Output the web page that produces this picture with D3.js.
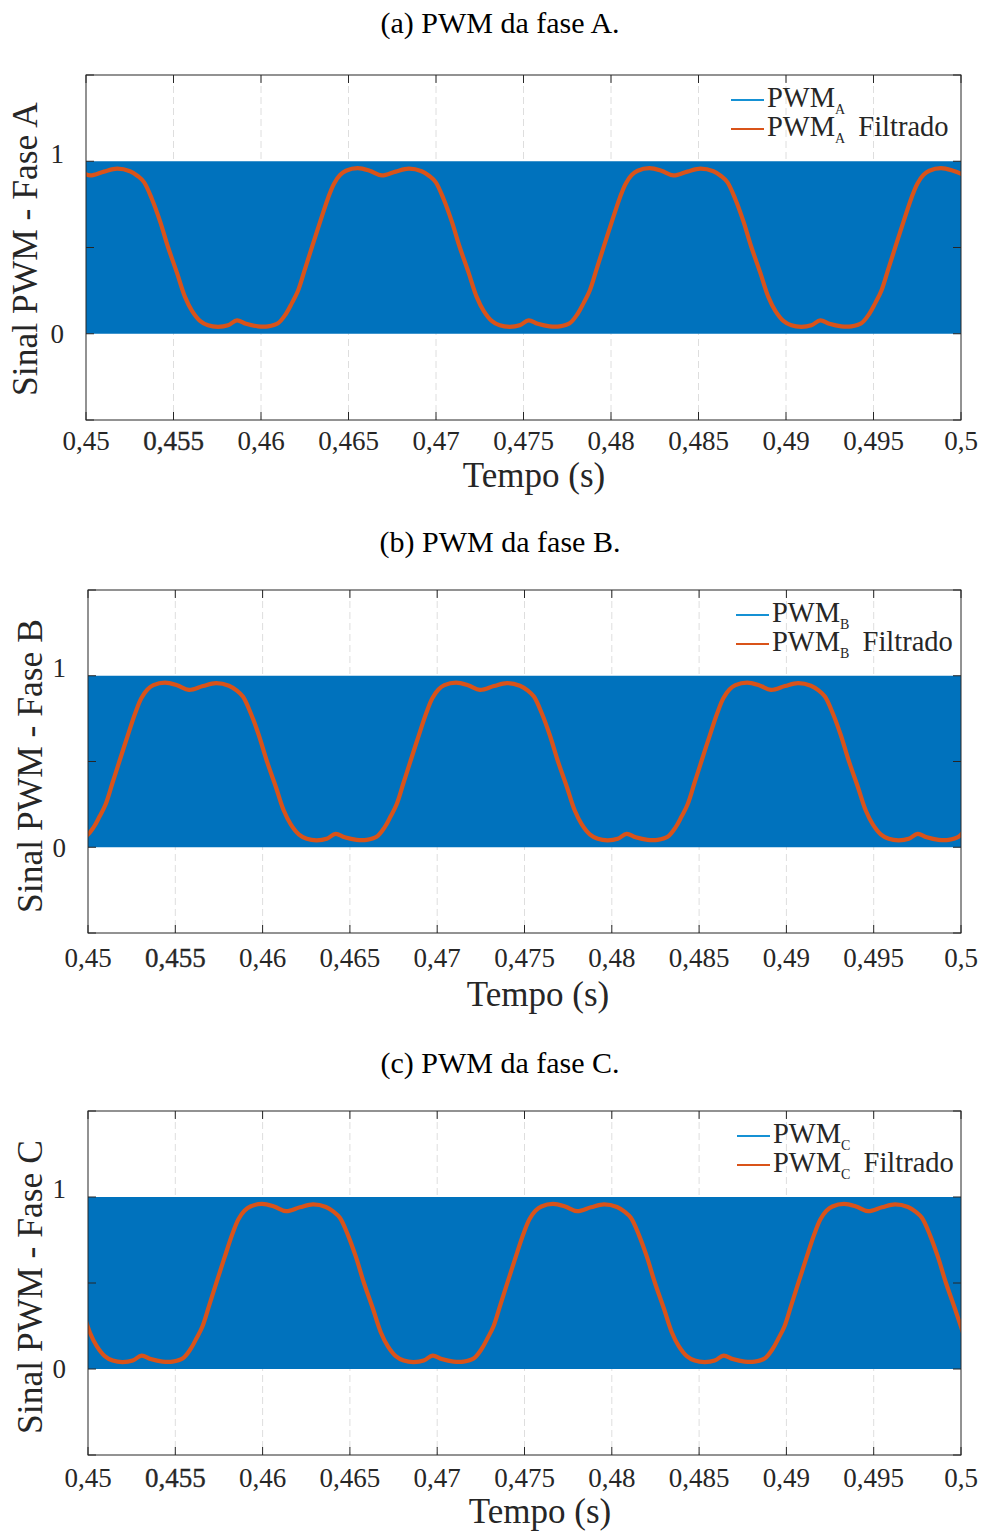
<!DOCTYPE html>
<html><head><meta charset="utf-8">
<script src="https://cdn.jsdelivr.net/npm/d3@7"></script>
<style>body{margin:0;background:#fff} svg{display:block}</style>
</head><body>
<svg id="c" width="994" height="1531"></svg>
<script>
const xTicks = [0.45,0.455,0.46,0.465,0.47,0.475,0.48,0.485,0.49,0.495,0.5];
const xTickLabels = ["0,45","0,455","0,46","0,465","0,47","0,475","0,48","0,485","0,49","0,495","0,5"];
const yTicks = [-0.5,0,0.5,1,1.5];
const yTickLabels = ["","0","","1",""];
const xDomain = [0.45,0.5];
const yDomain = [-0.5,1.5];
const pwmLevels = [0,1];
const titles = ["(a) PWM da fase A.","(b) PWM da fase B.","(c) PWM da fase C."];
const phaseNames = ["A","B","C"];
const xLabel = "Tempo (s)";

const filtA = [
[0.448190,0.945],[0.448857,0.960],[0.449543,0.945],[0.450229,0.918],[0.451029,0.940],[0.451772,0.957],[0.452515,0.942],[0.452972,0.913],[0.453315,0.879],[0.453772,0.780],[0.454229,0.653],[0.454686,0.503],[0.455200,0.353],[0.455657,0.214],[0.456057,0.133],[0.456515,0.075],[0.456972,0.049],[0.457543,0.040],[0.458115,0.049],[0.458629,0.078],[0.459143,0.058],[0.459829,0.043],[0.460400,0.043],[0.460972,0.061],[0.461429,0.116],[0.461772,0.179],[0.462115,0.249],[0.462515,0.376],[0.462915,0.503],[0.463372,0.647],[0.463829,0.786],[0.464172,0.870],[0.464515,0.920],[0.464857,0.945],
[0.465524,0.960],[0.466210,0.945],[0.466896,0.918],[0.467696,0.940],[0.468439,0.957],[0.469182,0.942],[0.469639,0.913],[0.469982,0.879],[0.470439,0.780],[0.470896,0.653],[0.471353,0.503],[0.471867,0.353],[0.472324,0.214],[0.472724,0.133],[0.473182,0.075],[0.473639,0.049],[0.474210,0.040],[0.474782,0.049],[0.475296,0.078],[0.475810,0.058],[0.476496,0.043],[0.477067,0.043],[0.477639,0.061],[0.478096,0.116],[0.478439,0.179],[0.478782,0.249],[0.479182,0.376],[0.479582,0.503],[0.480039,0.647],[0.480496,0.786],[0.480839,0.870],[0.481182,0.920],[0.481524,0.945],
[0.482191,0.960],[0.482877,0.945],[0.483563,0.918],[0.484363,0.940],[0.485106,0.957],[0.485849,0.942],[0.486306,0.913],[0.486649,0.879],[0.487106,0.780],[0.487563,0.653],[0.488020,0.503],[0.488534,0.353],[0.488991,0.214],[0.489391,0.133],[0.489849,0.075],[0.490306,0.049],[0.490877,0.040],[0.491449,0.049],[0.491963,0.078],[0.492477,0.058],[0.493163,0.043],[0.493734,0.043],[0.494306,0.061],[0.494763,0.116],[0.495106,0.179],[0.495449,0.249],[0.495849,0.376],[0.496249,0.503],[0.496706,0.647],[0.497163,0.786],[0.497506,0.870],[0.497849,0.920],[0.498191,0.945],
[0.498858,0.960],[0.499544,0.945],[0.500230,0.918]];

const filtB = [
[0.448718,0.043],[0.449289,0.043],[0.449861,0.061],[0.450318,0.116],[0.450661,0.179],[0.451004,0.249],[0.451404,0.376],[0.451804,0.503],[0.452261,0.647],[0.452718,0.786],[0.453061,0.870],[0.453404,0.920],[0.453746,0.945],
[0.454413,0.960],[0.455099,0.945],[0.455785,0.918],[0.456585,0.940],[0.457328,0.957],[0.458071,0.942],[0.458528,0.913],[0.458871,0.879],[0.459328,0.780],[0.459785,0.653],[0.460242,0.503],[0.460756,0.353],[0.461213,0.214],[0.461613,0.133],[0.462071,0.075],[0.462528,0.049],[0.463099,0.040],[0.463671,0.049],[0.464185,0.078],[0.464699,0.058],[0.465385,0.043],[0.465956,0.043],[0.466528,0.061],[0.466985,0.116],[0.467328,0.179],[0.467671,0.249],[0.468071,0.376],[0.468471,0.503],[0.468928,0.647],[0.469385,0.786],[0.469728,0.870],[0.470071,0.920],[0.470413,0.945],
[0.471080,0.960],[0.471766,0.945],[0.472452,0.918],[0.473252,0.940],[0.473995,0.957],[0.474738,0.942],[0.475195,0.913],[0.475538,0.879],[0.475995,0.780],[0.476452,0.653],[0.476909,0.503],[0.477423,0.353],[0.477880,0.214],[0.478280,0.133],[0.478738,0.075],[0.479195,0.049],[0.479766,0.040],[0.480338,0.049],[0.480852,0.078],[0.481366,0.058],[0.482052,0.043],[0.482623,0.043],[0.483195,0.061],[0.483652,0.116],[0.483995,0.179],[0.484338,0.249],[0.484738,0.376],[0.485138,0.503],[0.485595,0.647],[0.486052,0.786],[0.486395,0.870],[0.486738,0.920],[0.487080,0.945],
[0.487747,0.960],[0.488433,0.945],[0.489119,0.918],[0.489919,0.940],[0.490662,0.957],[0.491405,0.942],[0.491862,0.913],[0.492205,0.879],[0.492662,0.780],[0.493119,0.653],[0.493576,0.503],[0.494090,0.353],[0.494547,0.214],[0.494947,0.133],[0.495405,0.075],[0.495862,0.049],[0.496433,0.040],[0.497005,0.049],[0.497519,0.078],[0.498033,0.058],[0.498719,0.043],[0.499290,0.043],[0.499862,0.061],[0.500319,0.116]];

const filtC = [
[0.448216,0.780],[0.448673,0.653],[0.449130,0.503],[0.449644,0.353],[0.450101,0.214],[0.450501,0.133],[0.450959,0.075],[0.451416,0.049],[0.451987,0.040],[0.452559,0.049],[0.453073,0.078],[0.453587,0.058],[0.454273,0.043],[0.454844,0.043],[0.455416,0.061],[0.455873,0.116],[0.456216,0.179],[0.456559,0.249],[0.456959,0.376],[0.457359,0.503],[0.457816,0.647],[0.458273,0.786],[0.458616,0.870],[0.458959,0.920],[0.459301,0.945],
[0.459968,0.960],[0.460654,0.945],[0.461340,0.918],[0.462140,0.940],[0.462883,0.957],[0.463626,0.942],[0.464083,0.913],[0.464426,0.879],[0.464883,0.780],[0.465340,0.653],[0.465797,0.503],[0.466311,0.353],[0.466768,0.214],[0.467168,0.133],[0.467626,0.075],[0.468083,0.049],[0.468654,0.040],[0.469226,0.049],[0.469740,0.078],[0.470254,0.058],[0.470940,0.043],[0.471511,0.043],[0.472083,0.061],[0.472540,0.116],[0.472883,0.179],[0.473226,0.249],[0.473626,0.376],[0.474026,0.503],[0.474483,0.647],[0.474940,0.786],[0.475283,0.870],[0.475626,0.920],[0.475968,0.945],
[0.476635,0.960],[0.477321,0.945],[0.478007,0.918],[0.478807,0.940],[0.479550,0.957],[0.480293,0.942],[0.480750,0.913],[0.481093,0.879],[0.481550,0.780],[0.482007,0.653],[0.482464,0.503],[0.482978,0.353],[0.483435,0.214],[0.483835,0.133],[0.484293,0.075],[0.484750,0.049],[0.485321,0.040],[0.485893,0.049],[0.486407,0.078],[0.486921,0.058],[0.487607,0.043],[0.488178,0.043],[0.488750,0.061],[0.489207,0.116],[0.489550,0.179],[0.489893,0.249],[0.490293,0.376],[0.490693,0.503],[0.491150,0.647],[0.491607,0.786],[0.491950,0.870],[0.492293,0.920],[0.492635,0.945],
[0.493302,0.960],[0.493988,0.945],[0.494674,0.918],[0.495474,0.940],[0.496217,0.957],[0.496960,0.942],[0.497417,0.913],[0.497760,0.879],[0.498217,0.780],[0.498674,0.653],[0.499131,0.503],[0.499645,0.353],[0.500102,0.214]];

const filtSeries = [filtA, filtB, filtC];

// layout (pixels)
const layouts = [
  {left:86, right:961, top:75,  bottom:420,  titleY:22,   tickY:441,  xlabX:534, xlabY:475,  ylabX:25, ylabY:249,  legX:731, legY:100},
  {left:88, right:961, top:590, bottom:933,  titleY:541,  tickY:958,  xlabX:538, xlabY:994,  ylabX:30, ylabY:766,  legX:736, legY:615},
  {left:88, right:961, top:1111,bottom:1455, titleY:1062, tickY:1478, xlabX:540, xlabY:1511, ylabX:30, ylabY:1287, legX:737, legY:1136}
];

const FONT = "'Liberation Serif','Times New Roman',serif";
const svg = d3.select("#c");
svg.append("rect").attr("width",994).attr("height",1531).attr("fill","#fff");

layouts.forEach((L, i) => {
  const x = d3.scaleLinear().domain(xDomain).range([L.left, L.right]);
  const y = d3.scaleLinear().domain(yDomain).range([L.bottom, L.top]);
  const g = svg.append("g");

  // title
  g.append("text").attr("x",500).attr("y",L.titleY).attr("dy","0.35em")
    .attr("text-anchor","middle").attr("font-family",FONT).attr("font-size",30)
    .attr("fill","#000").text(titles[i]);

  // grid
  g.selectAll(".grid").data(xTicks.slice(1,-1)).join("line")
    .attr("x1",d=>x(d)).attr("x2",d=>x(d)).attr("y1",L.top).attr("y2",L.bottom)
    .attr("stroke","#dedede").attr("stroke-width",1).attr("stroke-dasharray","7,4");

  const clipId = "clip"+i;
  svg.append("clipPath").attr("id",clipId).append("rect")
    .attr("x",L.left).attr("y",L.top).attr("width",L.right-L.left).attr("height",L.bottom-L.top);

  // PWM band
  const band = d3.area().x(d=>x(d)).y0(y(pwmLevels[0])).y1(y(pwmLevels[1]));
  g.append("path").datum(xDomain).attr("d",band).attr("fill","#0072BD");

  // filtered line
  const line = d3.line().x(d=>x(d[0])).y(d=>y(d[1])).curve(d3.curveCatmullRom.alpha(0.5));
  g.append("path").datum(filtSeries[i]).attr("d",line).attr("clip-path",`url(#${clipId})`)
    .attr("fill","none").attr("stroke","#D95319").attr("stroke-width",4.2)
    .attr("stroke-linejoin","round").attr("stroke-linecap","round");

  // axes box
  const axc = "#262626";
  g.append("rect").attr("x",L.left).attr("y",L.top).attr("width",L.right-L.left).attr("height",L.bottom-L.top)
    .attr("fill","none").attr("stroke",axc).attr("stroke-width",1);

  // ticks (inward)
  const tl = 8;
  xTicks.forEach(t => {
    g.append("line").attr("x1",x(t)).attr("x2",x(t)).attr("y1",L.bottom).attr("y2",L.bottom-tl).attr("stroke",axc);
    g.append("line").attr("x1",x(t)).attr("x2",x(t)).attr("y1",L.top).attr("y2",L.top+tl).attr("stroke",axc);
  });
  yTicks.forEach(v => {
    g.append("line").attr("x1",L.left).attr("x2",L.left+tl).attr("y1",y(v)).attr("y2",y(v)).attr("stroke",axc);
    g.append("line").attr("x1",L.right).attr("x2",L.right-tl).attr("y1",y(v)).attr("y2",y(v)).attr("stroke",axc);
  });

  // x tick labels
  g.selectAll(".xtl").data(xTicks).join("text")
    .attr("x",d=>x(d)).attr("y",L.tickY).attr("dy","0.35em").attr("text-anchor","middle")
    .attr("font-family",FONT).attr("font-size",27).attr("fill","#262626")
    .attr("stroke",(d,j)=> xTickLabels[j]==="0,455" ? "#262626" : "none")
    .attr("stroke-width",0.35)
    .text((d,j)=>xTickLabels[j]);

  // y tick labels
  g.selectAll(".ytl").data(yTicks).join("text")
    .attr("x",L.left-22).attr("y",d=>y(d)).attr("dy",(d,j)=> yTickLabels[j]==="1" ? "0.05em" : "0.35em")
    .attr("text-anchor","end").attr("font-family",FONT).attr("font-size",27).attr("fill","#262626")
    .text((d,j)=>yTickLabels[j]);

  // x label
  g.append("text").attr("x",L.xlabX).attr("y",L.xlabY).attr("dy","0.35em").attr("text-anchor","middle")
    .attr("font-family",FONT).attr("font-size",35).attr("fill","#262626").text(xLabel);

  // y label
  g.append("text").attr("transform",`translate(${L.ylabX},${L.ylabY}) rotate(-90)`)
    .attr("dy","0.35em").attr("text-anchor","middle")
    .attr("font-family",FONT).attr("font-size",35.5).attr("fill","#262626")
    .text("Sinal PWM - Fase " + phaseNames[i]);

  // legend
  const leg = [
    {color:"#1591d4", suffix:""},
    {color:"#D95319", suffix:" Filtrado"}
  ];
  leg.forEach((e, k) => {
    const ly = L.legY + k*29;
    g.append("line").attr("x1",L.legX).attr("x2",L.legX+33).attr("y1",ly).attr("y2",ly)
      .attr("stroke",e.color).attr("stroke-width",2);
    const t = g.append("text").attr("x",L.legX+36).attr("y",ly+7)
      .attr("font-family",FONT).attr("font-size",28.5).attr("fill","#262626");
    t.append("tspan").text("PWM");
    t.append("tspan").attr("dy",7).attr("font-size",14).text(phaseNames[i]);
    if (e.suffix) t.append("tspan").attr("dy",-7).attr("dx",6).text(e.suffix);
  });
});
</script>
</body></html>
